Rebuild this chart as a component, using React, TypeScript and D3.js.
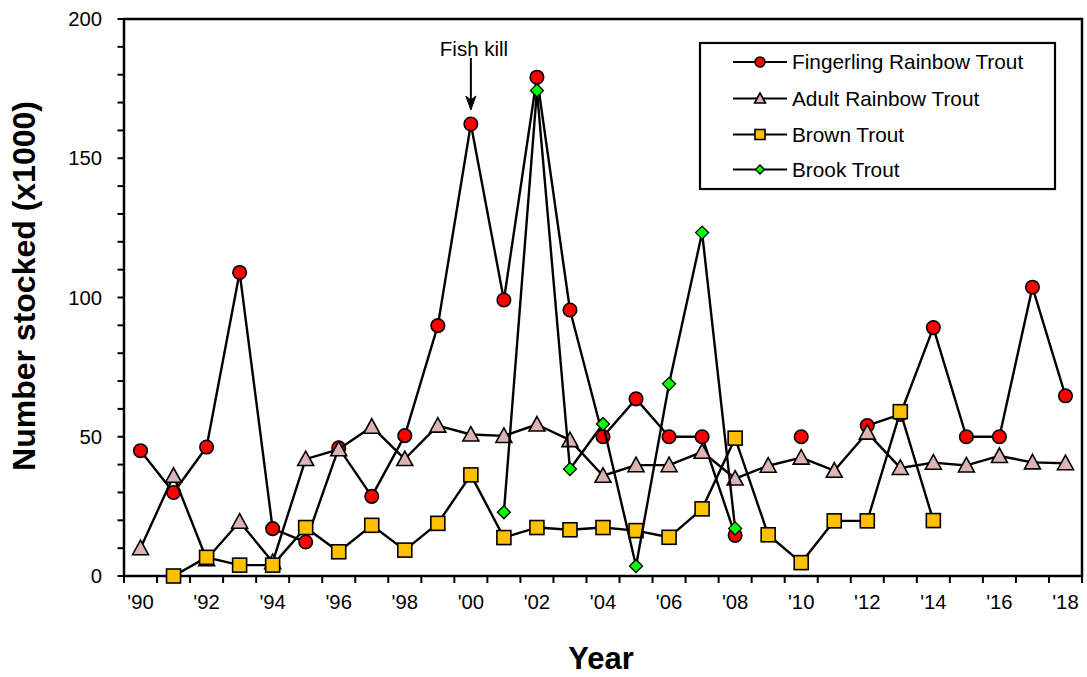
import React from "react";
import * as d3 from "d3";

const years = [1990, 1991, 1992, 1993, 1994, 1995, 1996, 1997, 1998, 1999, 2000, 2001, 2002, 2003, 2004, 2005, 2006, 2007, 2008, 2009, 2010, 2011, 2012, 2013, 2014, 2015, 2016, 2017, 2018];
const tickLabels = ["'90", "'92", "'94", "'96", "'98", "'00", "'02", "'04", "'06", "'08", "'10", "'12", "'14", "'16", "'18"];
const tickLabelYears = [1990, 1992, 1994, 1996, 1998, 2000, 2002, 2004, 2006, 2008, 2010, 2012, 2014, 2016, 2018];

const fingerling: (number | null)[] = [45, 30, 46.3, 109, 17, 12.2, 46, 28.6, 50.4, 89.9, 162.3, 99.1, 179.1, 95.5, 50, 63.6, 50, 50, 14.6, null, 50, null, 54, 58, 89.2, 50, 50, 103.7, 64.7];
const adult: (number | null)[] = [10, 36, 6, 19.5, 5, 42, 45.5, 53.6, 42, 54, 50.8, 50.3, 54.4, 48.8, 36, 39.8, 39.8, 44.6, 35, 39.6, 42.5, 37.8, 51.5, 38.8, 40.7, 39.7, 43.1, 40.8, 40.5];
const brown: (number | null)[] = [null, 0, 6.7, 3.9, 3.9, 17.4, 8.7, 18.2, 9.3, 18.9, 36.3, 13.8, 17.4, 16.6, 17.4, 16.3, 13.9, 24.1, 49.5, 14.8, 4.8, 19.8, 19.8, 59, 19.9, null, null, null, null];
const brook: (number | null)[] = [null, null, null, null, null, null, null, null, null, null, null, 22.9, 174.3, 38.4, 54.6, 3.6, 69, 123.3, 17.1, null, null, null, null, null, null, null, null, null, null];

const seriesNames = ["Fingerling Rainbow Trout", "Adult Rainbow Trout", "Brown Trout", "Brook Trout"];
const seriesColors = ["#ff0000", "#dcb4b4", "#ffc000", "#00ff00"];
const seriesShapes = ["circle", "triangle", "square", "diamond"];
const seriesData = [fingerling, adult, brown, brook];

const yTicksMajor = [0, 50, 100, 150, 200];
const yTicksMinor = [0, 10, 20, 30, 40, 50, 60, 70, 80, 90, 100, 110, 120, 130, 140, 150, 160, 170, 180, 190, 200];

const FONT = "'Liberation Sans', Arial, sans-serif";

function Marker({ shape, x, y, fill, s }: { shape: string; x: number; y: number; fill: string; s: number }) {
  const sw = 1.6;
  if (shape === "circle") return <circle cx={x} cy={y} r={s * 0.5} fill={fill} stroke="#000" strokeWidth={sw} />;
  if (shape === "square")
    return <rect x={x - s * 0.5} y={y - s * 0.5} width={s} height={s} fill={fill} stroke="#000" strokeWidth={sw} />;
  if (shape === "triangle") {
    const w = s * 1.1, h = s;
    return <path d={`M${x},${y - h * 0.55}L${x + w / 2},${y + h * 0.45}L${x - w / 2},${y + h * 0.45}Z`} fill={fill} stroke="#000" strokeWidth={sw} strokeLinejoin="miter" />;
  }
  const r = s * 0.5;
  return <path d={`M${x},${y - r}L${x + r},${y}L${x},${y + r}L${x - r},${y}Z`} fill={fill} stroke="#000" strokeWidth={sw * 0.8} />;
}

export default function App() {
  const W = 1087, H = 677;
  const left = 124, right = 1082, top = 19, bottom = 576;
  const x = d3.scaleBand<number>().domain(years).range([left, right]).padding(0);
  const y = d3.scaleLinear().domain([0, 200]).range([bottom, top]);
  const cx = (yr: number) => (x(yr) as number) + x.bandwidth() / 2;
  const line = d3
    .line<number | null>()
    .defined((d) => d !== null)
    .x((_, i) => cx(years[i]))
    .y((d) => y(d as number));

  const boundaries = [...years.map((yr) => x(yr) as number), right];
  const markerSizes = [13.5, 14.5, 14, 13];
  const legendX = 700, legendY = 43, legendW = 355, legendH = 146;
  const legendRows = [62, 98.5, 134.5, 169.5];

  return (
    <svg width={W} height={H} style={{ position: "absolute", left: 0, top: 0, background: "#fff" }} fontFamily={FONT}>
      <rect x={0} y={0} width={W} height={H} fill="#fff" />
      {/* frame */}
      <rect x={left} y={top} width={right - left} height={bottom - top} fill="none" stroke="#000" strokeWidth={2.5} />
      {/* y ticks */}
      {yTicksMinor.map((t) => (
        <line key={"ym" + t} x1={left - 6.5} x2={left} y1={y(t)} y2={y(t)} stroke="#000" strokeWidth={2} />
      ))}
      {yTicksMajor.map((t) => (
        <text key={"yl" + t} x={102} y={y(t)} dy="0.35em" textAnchor="end" fontSize={20.3} fill="#000">
          {t}
        </text>
      ))}
      {/* x ticks */}
      {boundaries.map((b, i) => (
        <line key={"xt" + i} x1={b} x2={b} y1={bottom} y2={bottom + 7} stroke="#000" strokeWidth={2} />
      ))}
      {tickLabelYears.map((yr, i) => (
        <text key={"xl" + yr} x={cx(yr)} y={609} textAnchor="middle" fontSize={20.3} fill="#000">
          {tickLabels[i]}
        </text>
      ))}
      {/* axis titles */}
      <text x={(left + right) / 2 - 2} y={669} textAnchor="middle" fontSize={31} fontWeight="bold" fill="#000">
        Year
      </text>
      <text transform={`translate(35,286) rotate(-90)`} textAnchor="middle" fontSize={32} fontWeight="bold" fill="#000">
        Number stocked (x1000)
      </text>
      {/* series */}
      {seriesData.map((data, si) => (
        <g key={"s" + si}>
          <path d={line(data) || ""} fill="none" stroke="#000" strokeWidth={2.4} strokeLinejoin="round" />
          {data.map((v, i) =>
            v === null ? null : (
              <Marker key={i} shape={seriesShapes[si]} x={cx(years[i])} y={y(v)} fill={seriesColors[si]} s={markerSizes[si]} />
            )
          )}
        </g>
      ))}
      {/* annotation */}
      <text x={474} y={56} textAnchor="middle" fontSize={20.5} fill="#000">
        Fish kill
      </text>
      <line x1={cx(2000)} x2={cx(2000)} y1={58} y2={104} stroke="#000" strokeWidth={2} />
      <path d={`M${cx(2000)},${110}L${cx(2000) - 5},${96}L${cx(2000)},${100}L${cx(2000) + 5},${96}Z`} fill="#000" stroke="#000" strokeWidth={1} />
      {/* legend */}
      <rect x={legendX} y={legendY} width={legendW} height={legendH} fill="#fff" stroke="#000" strokeWidth={2.2} />
      {seriesNames.map((name, i) => (
        <g key={"lg" + i}>
          <line x1={733} x2={787} y1={legendRows[i]} y2={legendRows[i]} stroke="#000" strokeWidth={2.2} />
          <Marker shape={seriesShapes[i]} x={760} y={legendRows[i]} fill={seriesColors[i]} s={i === 3 ? 9 : 10} />
          <text x={792} y={legendRows[i]} dy="0.35em" fontSize={20.8} fill="#000">
            {name}
          </text>
        </g>
      ))}
    </svg>
  );
}
